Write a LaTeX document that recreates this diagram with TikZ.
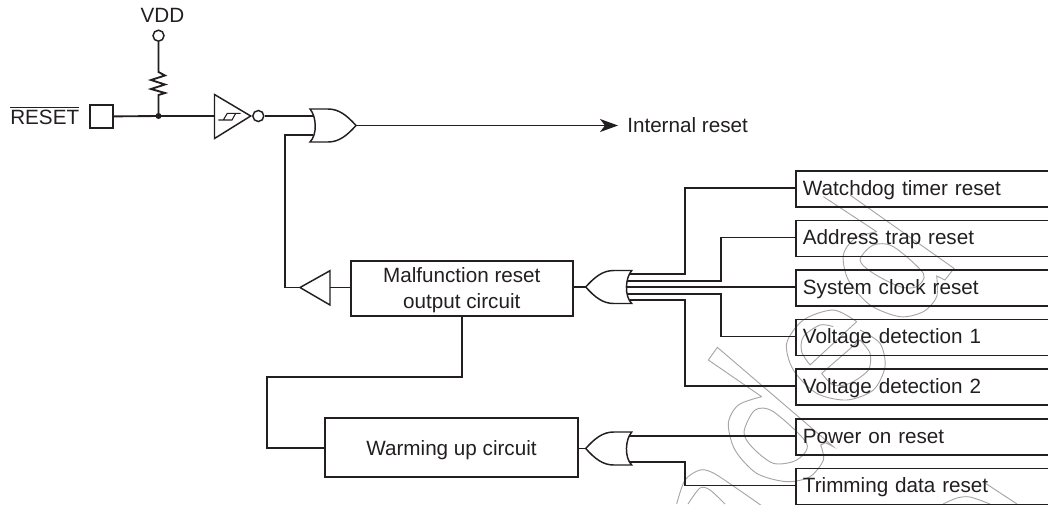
\documentclass[tikz,border=0pt]{standalone}
\usepackage{fontspec}
\setmainfont{Liberation Sans}
\usetikzlibrary{arrows.meta}
\definecolor{ink}{HTML}{231F20}
\definecolor{wm}{HTML}{A6A6A6}
\tikzset{
  x=0.75pt,y=-0.75pt,
  every node/.style={font=\fontsize{15.5pt}{19.2pt}\selectfont,text=ink},
  wire/.style={draw=ink,line width=1.4pt},
  gate/.style={draw=ink,line width=1.1pt,line join=miter},
  blockbox/.style={draw=ink,line width=1.4pt,align=center,inner sep=0pt},
  sourcebox/.style={draw=ink,line width=1.4pt,anchor=north west,minimum width=290*0.75pt,minimum height=36*0.75pt,text width=276*0.75pt,text height=12.1pt,text depth=2.8pt,align=left,inner xsep=6.5*0.75pt,inner ysep=0pt},
  textlabel/.style={inner sep=0pt},
  mark1/.style={draw=wm,line width=0.7pt},
  ws/.style={shift={(#1)},x=0.25pt,y=-0.25pt},
  orgate/.pic={
    % origin = tip of the gate
    \draw[gate] (0,0) .. controls (9,-10) and (17,-16.5) .. (28,-16.5) -- (46,-16.5)
      .. controls (39.5,-9) and (38.5,9) .. (46,16.5) -- (28,16.5) .. controls (17,16.5) and (9,10) .. (0,0) -- cycle;
  }
}
\begin{document}
\begin{tikzpicture}
\path[use as bounding box,clip] (0,0) rectangle (1048,504);

% --- watermark outlines ---
\begin{scope}[ws={760,170}]
  \draw[mark1] (190,80) -- (350,185) plot[smooth] coordinates {(350,185) (285,205) (250,255) (265,330) (330,405) (420,440) (490,425) (530,380) (530,318)} -- (555,330) -- (582,295) -- (270,75);
  \draw[mark1] plot[smooth cycle] coordinates {(300,270) (340,225) (400,230) (490,310) (470,350) (420,350) (340,310)};
\end{scope}
\begin{scope}[ws={660,310}]
  \draw[mark1] (590,35) plot[smooth] coordinates {(590,35) (520,0) (430,30) (380,100) (400,180) (470,250) (560,270) (640,240) (675,170) (660,100) (600,60)} ;
  \draw[mark1] (590,35) -- (450,165) plot[smooth] coordinates {(450,165) (425,125) (430,80) (480,45) (520,50)};
  \draw[mark1] (485,190) -- (600,90) plot[smooth] coordinates {(600,90) (630,130) (625,180) (570,220) (520,225) (485,190)};
  \draw[mark1] (145,150) -- (172,112) -- (520,410) -- (497,398);
  \draw[mark1] (145,150) -- (305,260) plot[smooth] coordinates {(305,260) (235,285) (205,340) (225,420) (290,490) (380,515) (450,500) (490,450) (482,405)} -- (497,398);
  \draw[mark1] plot[smooth cycle] coordinates {(252,365) (285,300) (340,305) (440,400) (410,450) (340,460) (275,410)};
  \draw[mark1] plot[smooth] coordinates {(50,582) (75,510) (120,480) (160,489) (230,535) (309,590)};
  \draw[mark1] plot[smooth] coordinates {(84,582) (120,534) (150,540) (195,582)};
  \draw[mark1] plot[smooth] coordinates {(849,582) (891,564) (930,561) (990,582)};
  \draw[mark1] (975,519) -- (1071,582);
\end{scope}

% --- anchor points ---
\coordinate (vdd) at (158.5,35.7);
\coordinate (res top) at (158.5,72);
\coordinate (res bot) at (158.5,95);
\coordinate (junction) at (158.5,116);
\coordinate (inv tip) at (250.7,116);
\coordinate (inv base) at (214.5,116);
\coordinate (or1) at (356,125.5);
\coordinate (or2) at (585.7,287);
\coordinate (or3) at (585.7,448.5);
\coordinate (buf tip) at (300,287.5);
\coordinate (buf base) at (330,287.5);
\coordinate (out) at (618,125.5);

% --- blocks ---
\node[draw=ink,line width=1.6pt,minimum size=23*0.75pt,inner sep=0pt] (pad) at (101.5,116.5) {};
\node[blockbox,minimum width=221.7*0.75pt,minimum height=55*0.75pt] (mal) at (461.8,288.2) {};
\node[textlabel,align=center] (maltext) at (461.8,290.3) {Malfunction reset\\output circuit};
\node[blockbox,minimum width=253*0.75pt,minimum height=59*0.75pt,text height=13.6pt,text depth=2.2pt] (warm) at (451.5,447.8) {Warming up circuit};
\node[sourcebox] (wd) at (795,170) {Watchdog timer reset};
\node[sourcebox] (addr) at (795,219.5) {Address trap reset};
\node[sourcebox] (sys) at (795,269) {System clock reset};
\node[sourcebox] (v1) at (795,318.5) {Voltage detection 1};
\node[sourcebox] (v2) at (795,368) {Voltage detection 2};
\node[sourcebox] (por) at (795,418) {Power on reset};
\node[sourcebox] (trim) at (795,467.5) {Trimming data reset};

% --- labels ---
\node[textlabel] (vddlabel) at (162.5,15.7) {VDD};
\node[textlabel,anchor=base west] (resetlabel) at (10,124) {$\overline{\hbox{RESET}}$};
\node[textlabel,anchor=west] (intlabel) at (627,125.5) {Internal reset};

% --- gates ---
\pic[xscale=-1] at (or1) {orgate};
\pic at (or2) {orgate};
\pic at (or3) {orgate};
\draw[gate] (inv base |- 0,94.5) -- (inv tip) -- (inv base |- 0,138.5) -- cycle;
\node[draw=ink,line width=1.1pt,circle,minimum size=11*0.75pt,inner sep=0pt] (bubble) at (258.3,116) {};
\draw[ink,line width=0.8pt] (218.3,120) -- (232,120) -- (235.7,113.3) -- (240.7,113.3) -- (227.3,113.3) -- (223.3,120);
\draw[gate] (buf tip) -- (buf base |- 0,270.7) -- (buf base |- 0,305) -- cycle;
\node[draw=ink,line width=1.1pt,circle,minimum size=11*0.75pt,inner sep=0pt] (vddc) at (vdd) {};
\fill[ink] (junction) circle[radius=3];

% --- connectors ---
\draw[wire] (vddc) -- (res top) -- ++(6.5,3.5) -- ++(-14,4.5) -- ++(14,4.5) -- ++(-14,4.5) -- ++(14,4) -- (res bot) -- (junction);
\draw[wire] (pad) -- (junction) -- (inv base);
\draw[wire] (bubble) -- (313,116);
\draw[wire,-{Stealth[length=18*0.75pt,width=13*0.75pt,inset=5*0.75pt]}] (or1) -- (out);
\draw[wire] (313,135) -- (285,135) -- (285,287.5) -- (buf tip);
\draw[wire] (buf base) -- (mal.west |- buf base);
\draw[wire] (mal.east |- or2) -- (or2);
\draw[wire] (630,274.3) -- (684.7,274.3) |- (wd.west |- 0,188);
\draw[wire] (626.5,280.7) -- (721,280.7) |- (addr.west |- 0,237.5);
\draw[wire] (625.5,287) -- (sys.west |- 0,287);
\draw[wire] (626.5,294) -- (721,294) |- (v1.west |- 0,336.5);
\draw[wire] (630,300.3) -- (684.7,300.3) |- (v2.west |- 0,386);
\draw[wire] (mal.south -| 462,0) -- (462,377.3) -- (266.7,377.3) |- (warm.west);
\draw[wire] (warm.east |- or3) -- (or3);
\draw[wire] (629,436.3) -- (por.west |- 0,436.3);
\draw[wire] (629,462) -- (684.7,462) |- (trim.west |- 0,485.5);
\end{tikzpicture}
\end{document}
